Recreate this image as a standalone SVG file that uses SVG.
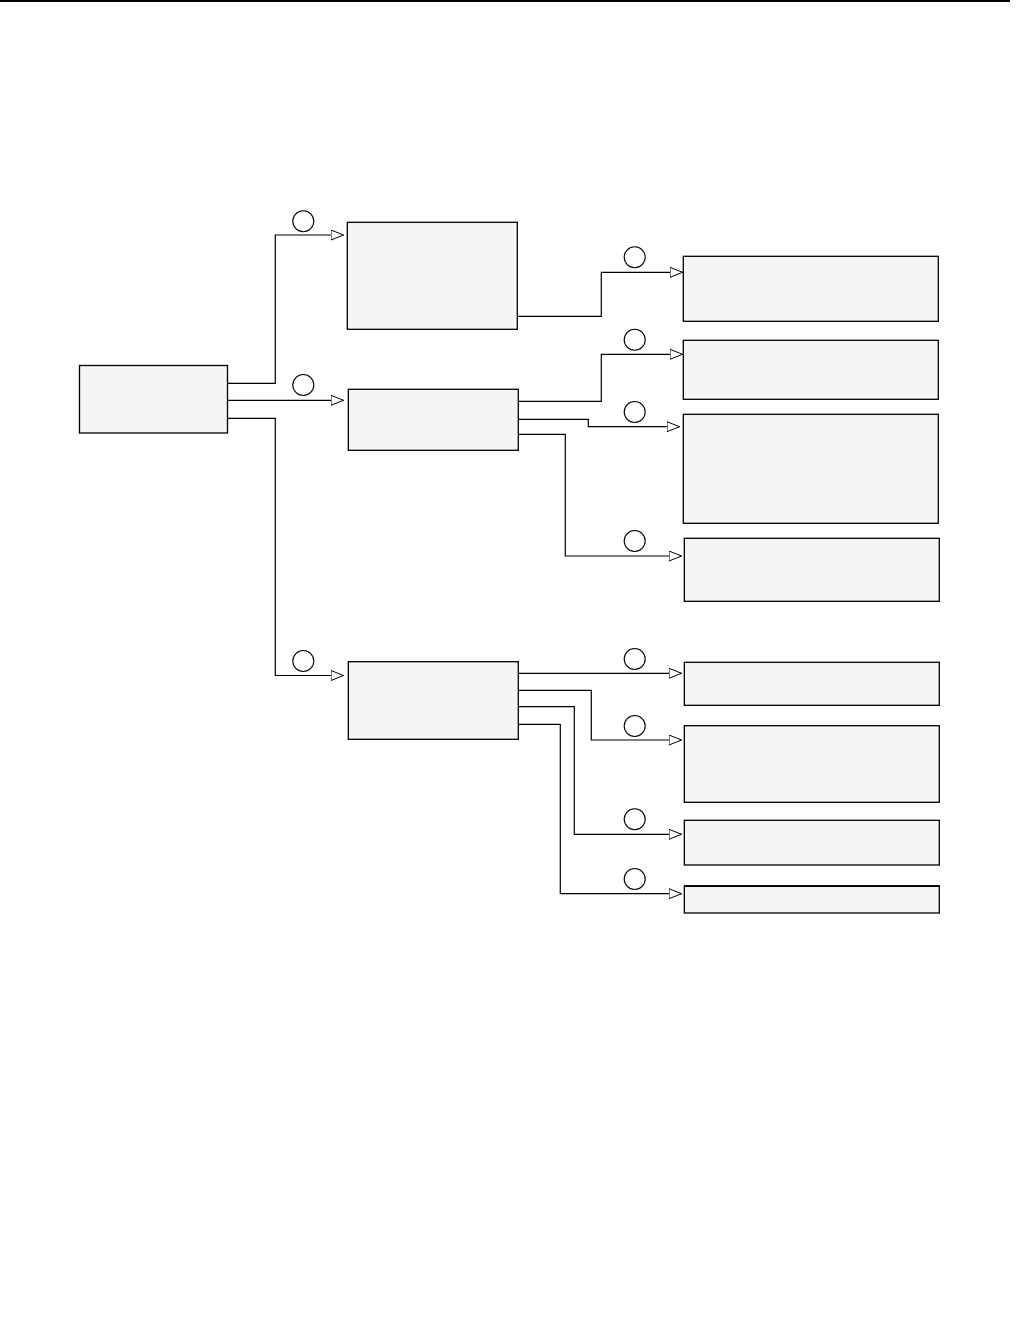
<svg xmlns="http://www.w3.org/2000/svg" width="1028" height="1322" viewBox="0 0 1028 1322">
<style>
.box{fill:#f5f5f5;stroke:#000;stroke-width:1.3}
.con{fill:none;stroke:#000;stroke-width:1.2}
.mark{fill:none;stroke:#000;stroke-width:1.1}
</style>
<defs>
<marker id="arr" markerUnits="userSpaceOnUse" markerWidth="15" markerHeight="12" refX="13" refY="5.5" orient="auto">
<path d="M0.5,0.5 L13,5.5 L0.5,10.5 z" fill="#fff" stroke="#000" stroke-width="1"/>
</marker>
</defs>
<rect x="0" y="0" width="1010" height="2" fill="#000"/>
<g id="connectors">
<polyline class="con" points="227.5,383.3 275.3,383.3 275.3,235 343.5,235" marker-end="url(#arr)"/>
<polyline class="con" points="227.5,400.3 343.5,400.3" marker-end="url(#arr)"/>
<polyline class="con" points="227.5,418.3 275.3,418.3 275.3,675.5 343.5,675.5" marker-end="url(#arr)"/>
<polyline class="con" points="517.5,316.3 601.3,316.3 601.3,272.3 682.5,272.3" marker-end="url(#arr)"/>
<polyline class="con" points="518.5,401.3 601.3,401.3 601.3,354.3 682.5,354.3" marker-end="url(#arr)"/>
<polyline class="con" points="518.5,419.3 588.3,419.3 588.3,426.7 679.5,426.7" marker-end="url(#arr)"/>
<polyline class="con" points="518.5,434.3 565.3,434.3 565.3,556 681.5,556" marker-end="url(#arr)"/>
<polyline class="con" points="518.5,673.3 681.5,673.3" marker-end="url(#arr)"/>
<polyline class="con" points="518.5,690.3 591.3,690.3 591.3,740 681.5,740" marker-end="url(#arr)"/>
<polyline class="con" points="518.5,706.7 574.3,706.7 574.3,834.3 681.5,834.3" marker-end="url(#arr)"/>
<polyline class="con" points="518.5,724.3 560.3,724.3 560.3,893.7 681.5,893.7" marker-end="url(#arr)"/>
</g>
<g id="marks">
<circle class="mark" cx="303.3" cy="221.3" r="10.5"/>
<circle class="mark" cx="303.3" cy="385" r="10.5"/>
<circle class="mark" cx="303.3" cy="661" r="10.5"/>
<circle class="mark" cx="634.7" cy="257.3" r="10.5"/>
<circle class="mark" cx="634.7" cy="339.7" r="10.5"/>
<circle class="mark" cx="634.7" cy="412" r="10.5"/>
<circle class="mark" cx="634.7" cy="541" r="10.5"/>
<circle class="mark" cx="634.7" cy="659" r="10.5"/>
<circle class="mark" cx="634.7" cy="726" r="10.5"/>
<circle class="mark" cx="634.7" cy="819.3" r="10.5"/>
<circle class="mark" cx="634.7" cy="879" r="10.5"/>
</g>
<g id="root"><rect class="box" x="79.5" y="365.5" width="148" height="67.5"/></g>
<g id="b1"><rect class="box" x="347.3" y="222.3" width="170" height="107"/></g>
<g id="b2"><rect class="box" x="348.3" y="389.3" width="170" height="61"/></g>
<g id="b3"><rect class="box" x="348.3" y="661.7" width="170" height="77.6"/></g>
<g id="r1"><rect class="box" x="683.3" y="256.3" width="255" height="65"/></g>
<g id="r2"><rect class="box" x="683.3" y="340.3" width="255" height="59"/></g>
<g id="r3"><rect class="box" x="683.3" y="414.3" width="255" height="109"/></g>
<g id="r4"><rect class="box" x="684.3" y="538.3" width="255" height="63"/></g>
<g id="r5"><rect class="box" x="684.3" y="662.3" width="255" height="43"/></g>
<g id="r6"><rect class="box" x="684.3" y="725.7" width="255" height="76.6"/></g>
<g id="r7"><rect class="box" x="684.3" y="820.3" width="255" height="44.7"/></g>
<g id="r8"><rect class="box" x="684.3" y="885.7" width="255" height="27.3"/><line x1="684.3" y1="886.5" x2="939.3" y2="886.5" stroke="#000" stroke-width="1.2"/></g>
</svg>
